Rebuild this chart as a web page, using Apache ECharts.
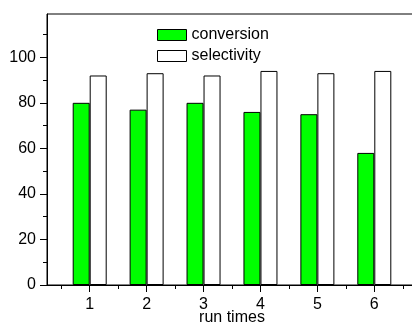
<!DOCTYPE html>
<html><head><meta charset="utf-8">
<script src="https://cdn.jsdelivr.net/npm/echarts@6/dist/echarts.min.js"></script>
<style>html,body{margin:0;padding:0;background:#fff}#c{width:412px;height:325px}</style>
</head><body><div id="c"></div>
<script>
const runs = [1, 2, 3, 4, 5, 6];
const conversion = [80, 77, 80, 76, 75, 58];
const selectivity = [92, 93, 92, 94, 93, 94];
const xTicks = [1, 2, 3, 4, 5, 6];
const xMinorTicks = [0.5, 1.5, 2.5, 3.5, 4.5, 5.5, 6.5];
const yTicks = [0, 20, 40, 60, 80, 100];
const yMinorTicks = [10, 30, 50, 70, 90, 110];
const seriesNames = ['conversion', 'selectivity'];
const xName = 'run times';

const FONT = 'Liberation Sans, Arial, sans-serif';
const chart = echarts.init(document.getElementById('c'), null, {renderer: 'canvas'});
const xBase = {type: 'value', min: 0.25, max: 6.75, position: 'bottom', splitLine: {show: false}};
const yBase = {type: 'value', min: 0, max: 119, position: 'left', splitLine: {show: false}};
chart.setOption({
  animation: false,
  backgroundColor: '#fff',
  grid: {left: 47, top: 14, width: 370, height: 271, outerBoundsMode: 'none', containLabel: false,
    show: true, borderColor: '#000', borderWidth: 1, backgroundColor: 'transparent'},
  legend: {
    orient: 'vertical', left: 157, top: 27, padding: 0, itemGap: 5,
    itemWidth: 29, itemHeight: 11, icon: 'rect',
    textStyle: {fontFamily: FONT, fontSize: 16, color: '#000'},
    data: [
      {name: seriesNames[0], itemStyle: {color: '#00ff00', borderColor: '#000', borderWidth: 1}},
      {name: seriesNames[1], itemStyle: {color: '#fff', borderColor: '#000', borderWidth: 1}}
    ]
  },
  xAxis: [
    Object.assign({}, xBase, {
      axisLine: {show: true, lineStyle: {color: '#000', width: 1}},
      axisTick: {show: true, length: 7, customValues: xTicks, lineStyle: {color: '#000'}},
      axisLabel: {customValues: xTicks, fontFamily: FONT, fontSize: 16, color: '#000', margin: 12},
      name: xName, nameLocation: 'middle', nameGap: 25, nameMoveOverlap: false,
      nameTextStyle: {fontFamily: FONT, fontSize: 16, color: '#000', verticalAlign: 'top'}
    }),
    Object.assign({}, xBase, {
      axisLine: {show: false},
      axisTick: {show: true, length: 4, customValues: xMinorTicks, lineStyle: {color: '#000'}},
      axisLabel: {show: false}
    })
  ],
  yAxis: [
    Object.assign({}, yBase, {
      axisLine: {show: true, lineStyle: {color: '#000', width: 1}},
      axisTick: {show: true, length: 7, customValues: yTicks, lineStyle: {color: '#000'}},
      axisLabel: {customValues: yTicks, fontFamily: FONT, fontSize: 16, color: '#000', margin: 11}
    }),
    Object.assign({}, yBase, {
      axisLine: {show: false},
      axisTick: {show: true, length: 4, customValues: yMinorTicks, lineStyle: {color: '#000'}},
      axisLabel: {show: false}
    })
  ],
  series: [
    {
      name: seriesNames[0], type: 'bar', xAxisIndex: 0, yAxisIndex: 0,
      barWidth: 17, barGap: '0%',
      itemStyle: {color: '#00ff00', borderColor: '#000', borderWidth: 1},
      data: runs.map((r, i) => [r, conversion[i]])
    },
    {
      name: seriesNames[1], type: 'bar', xAxisIndex: 0, yAxisIndex: 0,
      barWidth: 17, barGap: '0%',
      itemStyle: {color: '#fff', borderColor: '#000', borderWidth: 1},
      data: runs.map((r, i) => [r, selectivity[i]])
    }
  ]
});
</script></body></html>
